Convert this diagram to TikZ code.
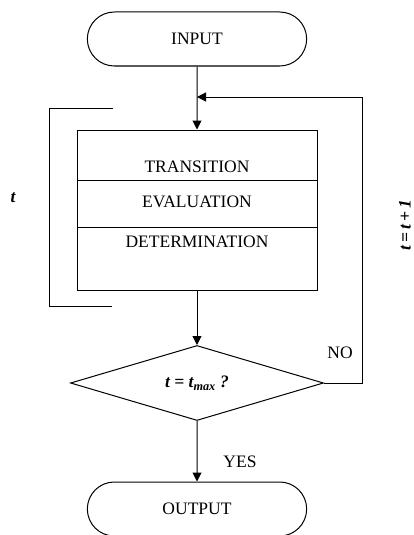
\documentclass[tikz,border=0pt]{standalone}
\usepackage{fontspec}
\setmainfont{Liberation Serif}
\usetikzlibrary{arrows.meta,shapes.misc,shapes.geometric}

\begin{document}
\begin{tikzpicture}[x=1pt, y=-1pt, line width=1pt,
    every node/.style={font=\fontsize{17.5pt}{20pt}\selectfont},
    term/.style={draw, rounded rectangle, minimum width=226pt, minimum height=54pt},
    part/.style={draw, minimum width=240pt, inner sep=0pt},
    test/.style={draw, diamond, aspect=3.37, minimum width=253pt, minimum height=75pt, inner sep=0pt},
    arr/.style={-{Triangle[length=9pt,width=9pt]}}]
  \useasboundingbox (0, 0) rectangle (413, 535);

  \node [term] (input) at (197, 39) {INPUT};

  \node [part, minimum height=50pt] (trans) at (197, 155) {};
  \node [part, minimum height=47pt] (eval) at (197, 203.5) {};
  \node [part, minimum height=63pt] (det) at (197, 258.5) {};
  \node (transtxt) at (197, 167) {TRANSITION};
  \node (evaltxt) at (197, 202) {EVALUATION};
  \node (dettxt) at (197, 242) {DETERMINATION};

  \node [test] (check) at (197, 383) {\bfseries\itshape t = t\textsubscript{max} ?};
  \node [term] (output) at (197, 509) {OUTPUT};

  \draw [arr] (input) -- (trans);
  \draw [arr] (det) -- (check);
  \draw [arr] (check) -- (output);

  \coordinate (join) at (197, 97);
  \draw [arr] (check.east) -- ++(38, 0) |- (join);

  \draw (113, 108) -- (49, 108) -- (49, 306) -- (112, 306);

  \node (tlbl) at (13, 198) {\bfseries\itshape t};
  \node [rotate=90] (inc) at (405, 225) {\bfseries\itshape t\,=\,t\,+\,1};
  \node (no) at (340, 353) {NO};
  \node (yes) at (240, 462) {YES};
\end{tikzpicture}
\end{document}
